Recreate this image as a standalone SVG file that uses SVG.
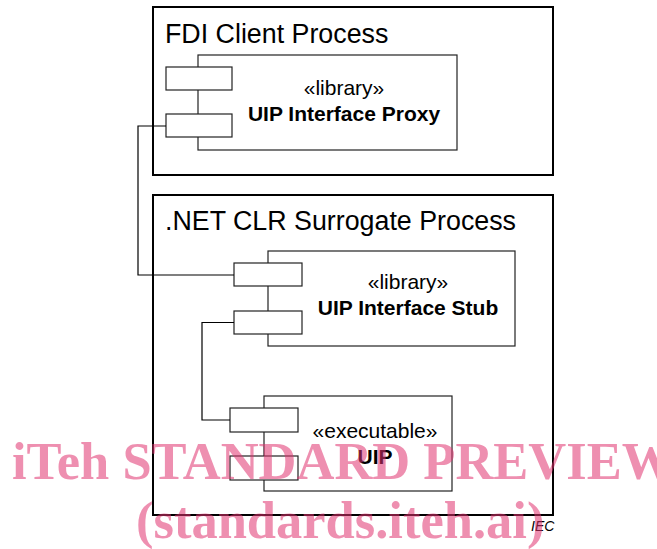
<svg xmlns="http://www.w3.org/2000/svg" width="657" height="549" viewBox="0 0 657 549">
<style>
.proc{fill:none;stroke:#000;stroke-width:2}
.comp{fill:#fff;stroke:#222;stroke-width:1.2}
.port{fill:#fff;stroke:#222;stroke-width:1.2}
.conn{fill:none;stroke:#000;stroke-width:1.2}
.title{font-family:"Liberation Sans",Arial,sans-serif;font-size:26.8px;fill:#000}
.st{font-family:"Liberation Sans",Arial,sans-serif;font-size:21px;fill:#000;text-anchor:middle}
.nm{font-family:"Liberation Sans",Arial,sans-serif;font-size:21px;font-weight:bold;fill:#000;text-anchor:middle}
.iec{font-family:"Liberation Sans",Arial,sans-serif;font-size:14px;font-style:italic;fill:#000}
.wm{font-family:"Liberation Serif","Times New Roman",serif;font-weight:bold;font-size:52.5px;fill:#e0336f;fill-opacity:0.55}
</style>
<g id="fdi-client-process">
<rect class="proc" x="153" y="7" width="400" height="168"/>
<text class="title" x="165" y="43">FDI Client Process</text>
</g>
<g id="uip-interface-proxy">
<rect class="comp" x="198" y="55" width="259" height="95"/>
<rect class="port" x="166" y="67" width="66" height="23"/>
<rect class="port" x="166" y="114" width="66" height="23"/>
<text class="st" x="344" y="95">«library»</text>
<text class="nm" x="344" y="121">UIP Interface Proxy</text>
</g>
<g id="net-clr-surrogate-process">
<rect class="proc" x="153" y="195" width="400" height="320"/>
<text class="title" x="165" y="230">.NET CLR Surrogate Process</text>
</g>
<g id="uip-interface-stub">
<rect class="comp" x="268" y="251" width="247" height="95"/>
<rect class="port" x="234" y="263" width="68" height="23"/>
<rect class="port" x="234" y="311" width="68" height="23"/>
<text class="st" x="408" y="289">«library»</text>
<text class="nm" x="408" y="315">UIP Interface Stub</text>
</g>
<g id="uip">
<rect class="comp" x="264" y="396" width="188" height="95"/>
<rect class="port" x="230" y="408" width="68" height="24"/>
<rect class="port" x="230" y="456" width="68" height="24"/>
<text class="st" x="375" y="438">«executable»</text>
<text class="nm" x="375" y="464">UIP</text>
</g>
<g id="connectors">
<polyline class="conn" points="166,126 138,126 138,275 234,275"/>
<polyline class="conn" points="234,322.5 202,322.5 202,420 230,420"/>
</g>
<text class="iec" x="531" y="531">IEC</text>
<g id="watermark">
<text class="wm" x="12" y="479">iTeh STANDARD PREVIEW</text>
<text class="wm" x="136" y="538">(standards.iteh.ai)</text>
</g>
</svg>
